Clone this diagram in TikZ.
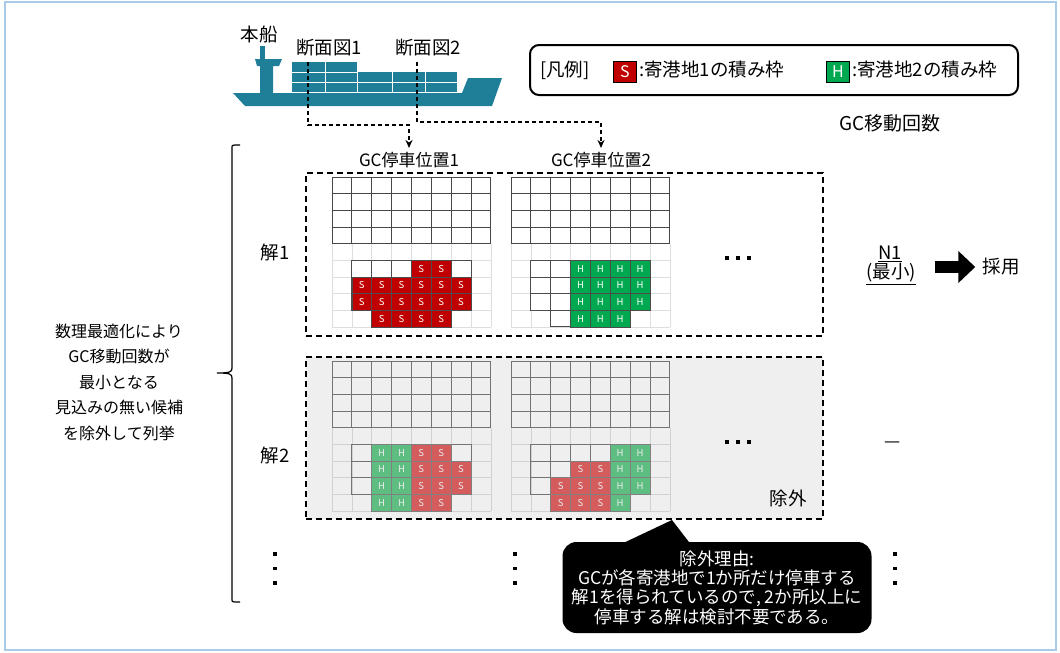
\documentclass[tikz,border=0pt]{standalone}
\usepackage{fontspec}
\setmainfont{Noto Sans CJK JP}
\usetikzlibrary{arrows.meta}

\definecolor{shipteal}{HTML}{1F7E98}
\definecolor{sred}{HTML}{C00000}
\definecolor{hgreen}{HTML}{00A84F}
\definecolor{sredfade}{HTML}{D45C5C}
\definecolor{hgreenfade}{HTML}{5EBE82}
\definecolor{panelgray}{HTML}{EFEFEF}
\definecolor{framebl}{HTML}{A9CBEA}

% cell size of one bay section
\def\cw{19.85}
\def\ch{16.65}

\tikzset{
  txt/.style={inner sep=0pt, font=\fontsize{17}{20}\selectfont},
  big/.style={inner sep=0pt, font=\fontsize{18.5}{21}\selectfont},
  lefttxt/.style={inner sep=0pt, align=center, font=\fontsize{16}{25.5}\selectfont},
  dashbox/.style={draw, line width=1.6pt, dash pattern=on 6pt off 4pt, inner sep=0pt},
  cutline/.style={line width=1.5pt, dash pattern=on 4pt off 3pt, -{Stealth[length=8pt,width=7pt]}},
  legendbox/.style={draw, line width=2pt, rounded corners=9pt, minimum width=488pt, minimum height=50pt},
  keybox/.style={draw, line width=1.4pt, minimum width=23pt, minimum height=21pt, inner sep=0pt,
    text=white, font=\fontsize{16}{16}\selectfont},
  callout/.style={fill=black, rounded corners=14pt, minimum width=309pt, minimum height=91pt,
    inner sep=0pt, text=white, align=center, font=\fontsize{17.5}{19.4}\selectfont},
  blockarrow/.style={line width=12pt, -{Triangle[length=17pt,width=31pt]}},
  % bay section lines, a = plain, b = faded
  lightlinea/.style={draw=black!13, line width=0.6pt},
  holdlinea/.style={draw=black!70, fill=white, line width=0.8pt},
  toplinea/.style={draw=black!72, line width=0.9pt, line cap=rect},
  lightlineb/.style={draw=black!18, line width=0.6pt},
  holdlineb/.style={draw=black!55, line width=0.8pt},
  toplineb/.style={draw=black!55, line width=0.9pt, line cap=rect},
  cellbase/.style={inner sep=0pt, minimum width=\cw pt, minimum height=\ch pt, line width=0.6pt,
    font=\fontsize{9.5}{9.5}\selectfont},
  sa/.style={cellbase, fill=sred, draw=black!70, text=white},
  ha/.style={cellbase, fill=hgreen, draw=black!70, text=white},
  sb/.style={cellbase, fill=sredfade, draw=black!50, text=white!92!black},
  hb/.style={cellbase, fill=hgreenfade, draw=black!50, text=white!92!black},
}

% one cross-section: #1,#2 origin, #3 palette (a/b), #4 id, #5 cargo
\newcommand\bay[5]{%
  \begin{scope}[shift={(#1,#2)}, x=\cw pt, y=-\ch pt]
    \foreach \i in {0,...,8}{\draw[lightline#3] (\i,4) -- (\i,9);}
    \foreach \j in {4,...,9}{\draw[lightline#3] (0,\j) -- (8,\j);}
    \foreach \r in {5,6,7}{\foreach \c in {1,...,6}{\draw[holdline#3] (\c,\r) rectangle ++(1,1);}}
    \foreach \c in {2,...,5}{\draw[holdline#3] (\c,8) rectangle ++(1,1);}
    \foreach \i in {0,...,8}{\draw[topline#3] (\i,0) -- (\i,4);}
    \foreach \j in {0,...,4}{\draw[topline#3] (0,\j) -- (8,\j);}
    \def\bayid{#4}
    #5
  \end{scope}}
% a row of loaded slots: #1 style, #2 letter, #3 row, #4 columns
\newcommand\cargo[4]{%
  \foreach \c in {#4}{\node[#1] (\bayid-#1-\c-#3) at (\c+0.5,#3+0.5) {#2};}}

\newcommand\dotcol[2]{%
  \foreach \d in {0,1,2}{\fill (#1-1.7,#2+\d*14.5-1.7) rectangle ++(3.4,3.4);}}
\newcommand\dotrow[2]{%
  \foreach \d in {-1,0,1}{\fill (#1+\d*11-1.7,#2-1.7) rectangle ++(3.4,3.4);}}

\begin{document}
\begin{tikzpicture}[x=1pt,y=-1pt]
\useasboundingbox (0,0) rectangle (1060,653);
\draw[framebl, line width=1.5pt] (5,2) rectangle (1056,650);

% ---- ship ----
\fill[shipteal] (233,93) -- (462,93) -- (468,78) -- (502,78) -- (492,106) -- (245,106) -- cycle;
\fill[shipteal] (260,46) rectangle (265,60);
\fill[shipteal] (255,59) -- (282,59) -- (279,66) -- (273,66) -- (273,93) -- (260,93) -- (260,66) -- (257,66) -- cycle;
\fill[shipteal] (292,62) rectangle (357,92);
\fill[shipteal] (357,72) rectangle (457,92);
\draw[white, line width=1pt] (292,72) -- (357,72) (292,82) -- (457,82)
  (325,62) -- (325,92) (357,62) -- (357,92) (392,72) -- (392,92) (425,72) -- (425,92);

\node[big] (honsen) at (259,34) {本船};
\node[big] (cs1) at (329,48) {断面図1};
\node[big] (cs2) at (428,48) {断面図2};

% ---- legend ----
\node[legendbox] (legend) at (774,70) {};
\node[big, anchor=west] (lgdtitle) at (540,70) {[凡例]};
\node[keybox, fill=sred] (keyS) at (625,72) {S};
\node[big, anchor=west] (keySt) at (639,70) {:寄港地1の積み枠};
\node[keybox, fill=hgreen] (keyH) at (838,72) {H};
\node[big, anchor=west] (keyHt) at (852,70) {:寄港地2の積み枠};

\node[inner sep=0pt, font=\fontsize{19}{21}\selectfont] (gcmoves) at (890,123) {GC移動回数};

% ---- column headers and cut lines ----
\node[txt] (pos1) at (409,160) {GC停車位置1};
\node[txt] (pos2) at (601,160) {GC停車位置2};
\coordinate (cut1) at (308,62);
\coordinate (cut2) at (417,62);
\draw[cutline] (cut1) -- ++(0,63) -| ([yshift=4pt]pos1.north);
\draw[cutline] (cut2) -- ++(0,60) -| ([yshift=4pt]pos2.north);

% ---- solution panels ----
\node[dashbox, minimum width=517pt, minimum height=163pt] (sol1) at (564.5,254.5) {};
\node[dashbox, fill=panelgray, minimum width=517pt, minimum height=162pt] (sol2) at (564.5,438) {};

\bay{332}{177}{a}{g1}{%
  \cargo{sa}{S}{5}{4,5}
  \cargo{sa}{S}{6}{1,...,6}
  \cargo{sa}{S}{7}{1,...,6}
  \cargo{sa}{S}{8}{2,...,5}}
\bay{511}{177}{a}{g2}{%
  \cargo{ha}{H}{5}{3,...,6}
  \cargo{ha}{H}{6}{3,...,6}
  \cargo{ha}{H}{7}{3,...,6}
  \cargo{ha}{H}{8}{3,4,5}}
\bay{332}{361}{b}{g3}{%
  \cargo{hb}{H}{5}{2,3}\cargo{sb}{S}{5}{4,5}
  \cargo{hb}{H}{6}{2,3}\cargo{sb}{S}{6}{4,5,6}
  \cargo{hb}{H}{7}{2,3}\cargo{sb}{S}{7}{4,5,6}
  \cargo{hb}{H}{8}{2,3}\cargo{sb}{S}{8}{4,5}}
\bay{511}{361}{b}{g4}{%
  \cargo{hb}{H}{5}{5,6}
  \cargo{sb}{S}{6}{3,4}\cargo{hb}{H}{6}{5,6}
  \cargo{sb}{S}{7}{2,3,4}\cargo{hb}{H}{7}{5,6}
  \cargo{sb}{S}{8}{2,3,4}\cargo{hb}{H}{8}{5}}

\dotrow{738}{258}
\dotrow{738}{442}

\node[big] (sol1lbl) at (275,252) {解1};
\node[big] (sol2lbl) at (275,455) {解2};
\node[big] (excl) at (788,498) {除外};

% ---- move counts ----
\node[big] (n1) at (890,254) {\underline{N1}};
\node[big] (n1min) at (891,274) {\underline{(最小)}};
\node[big] (adopt) at (1001,267) {採用};
\coordinate (arrS) at (935,267);
\draw[blockarrow, shorten >=7pt] (arrS) -- (adopt.west);
\node[inner sep=0pt, font=\fontsize{18}{18}\selectfont] (n2) at (893,445) {—};

% ---- brace and explanation ----
\draw[line width=1.2pt] (240,145) -- (235,145) .. controls (232,145) .. (232,149) -- (232,368)
  .. controls (232,372) and (230,373) .. (217,373)
  .. controls (230,373) and (232,374) .. (232,378) -- (232,598)
  .. controls (232,602) .. (235,602) -- (240,602);
\node[lefttxt] (method) at (119,382) {数理最適化により\\GC移動回数が\\最小となる\\見込みの無い候補\\を除外して列挙};

\dotcol{275}{554}
\dotcol{515}{554}
\dotcol{895}{554}

% ---- callout ----
\coordinate (tip) at (672,520);
\fill (tip) -- (617,546) -- (692,546) -- cycle;
\node[callout] (reason) at (717,587.5) {除外理由:\\GCが各寄港地で1か所だけ停車する\\解1を得られているので, 2か所以上に\\停車する解は検討不要である。};
\end{tikzpicture}
\end{document}
